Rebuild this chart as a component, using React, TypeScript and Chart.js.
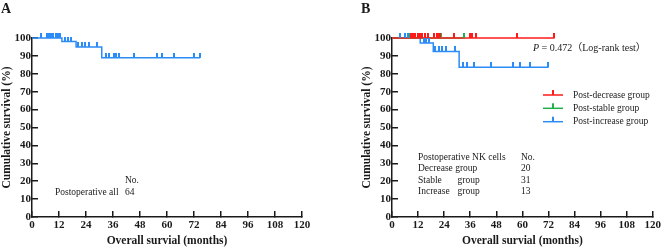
import React, { useEffect, useRef } from 'react';
import { Chart, registerables } from 'chart.js';

Chart.register(...registerables);

const SERIF = '"Liberation Serif", "Times New Roman", "Noto Sans CJK SC", serif';
const INK = '#1a1a1a';
const RED = '#ff1a1a';
const GREEN = '#22b04a';
const BLUE = '#2b8cf7';

// Time axis (months) and survival axis (%)
const monthTicks = [0, 12, 24, 36, 48, 60, 72, 84, 96, 108, 120];
const survivalTicks = [0, 10, 20, 30, 40, 50, 60, 70, 80, 90, 100];

// Panel A: all postoperative patients
const allTimes = [0, 13.3, 19.6, 31.0, 74.7];
const allSurvival = [100, 98.0, 95.0, 88.9, 88.9];
const allCensored = [4.0, 6.5, 7.5, 8.5, 9.5, 10.5, 11.5, 12.5, 14.8, 16.0, 17.5, 20.5, 22.0, 23.5, 25.5, 29.0, 33.0, 34.3, 36.5, 37.5, 38.5, 45.5, 55.5, 57.7, 63.3, 71.8, 74.7];
const allCount = 64;

// Panel B: groups by postoperative NK cell change
const decreaseTimes = [0, 74.8];
const decreaseSurvival = [100, 100];
const decreaseCensored = [8.8, 9.8, 10.8, 11.8, 12.8, 13.8, 15.2, 16.5, 19.5, 20.5, 21.5, 22.2, 28.5, 36.0, 37.0, 38.5, 57.6, 74.5];

const stableTimes = [0, 33.5];
const stableSurvival = [100, 100];
const stableCensored = [8.1, 13.7, 22.5, 33.1];

const increaseTimes = [0, 13.0, 19.0, 30.9, 72.0];
const increaseSurvival = [100, 97.2, 92.5, 83.6, 83.6];
const increaseCensored = [3.6, 6.2, 7.2, 14.5, 15.5, 17.0, 20.0, 21.5, 23.0, 25.0, 29.0, 32.5, 34.5, 37.9, 45.4, 55.5, 58.8, 63.6, 71.8];

const groupNames = ['Decrease', 'Stable', 'Increase'];
const groupCounts = [20, 31, 13];
const legendLabels = ['Post-decrease group', 'Post-stable group', 'Post-increase group'];
const legendColors = [RED, GREEN, BLUE];
const pValue = '0.472';

function survivalAt(times: number[], surv: number[], t: number) {
  let v = surv[0];
  for (let i = 0; i < times.length; i++) if (times[i] <= t) v = surv[i];
  return v;
}

// small upward tick used for censored observations
function censorMark(color: string) {
  const c = document.createElement('canvas');
  c.width = 2;
  c.height = 10;
  const g = c.getContext('2d')!;
  g.fillStyle = color;
  g.fillRect(0, 0, 2, 5);
  return c;
}

function curve(times: number[], surv: number[], color: string, order: number) {
  return {
    type: 'line' as const,
    data: times.map((x, i) => ({ x, y: surv[i] })),
    borderColor: color,
    borderWidth: 1.5,
    stepped: 'before' as const,
    pointRadius: 0,
    fill: false,
    clip: false as any,
    order,
  };
}

function marks(censored: number[], times: number[], surv: number[], color: string, order: number) {
  return {
    type: 'scatter' as const,
    data: censored.map((x) => ({ x, y: survivalAt(times, surv, x) })),
    pointStyle: censorMark(color),
    pointRadius: 3,
    showLine: false,
    clip: false as any,
    order,
  };
}

const tickFont = { family: SERIF, size: 11, weight: 'bold' as const };
const titleFont = { family: SERIF, size: 11.5, weight: 'bold' as const };
const noteFont = `9.5px ${SERIF}`;

function scales(yWidth: number, yTitlePad: number) {
  return {
    x: {
      type: 'linear' as const,
      min: 0,
      max: 120,
      afterFit: (s: any) => { s.height = 32; },
      afterBuildTicks: (s: any) => { s.ticks = monthTicks.map((v) => ({ value: v })); },
      border: { color: INK, width: 1.5 },
      grid: { drawOnChartArea: false, drawTicks: true, tickLength: -6, color: INK, lineWidth: 1.5 },
      ticks: { padding: 8, color: INK, font: tickFont, maxRotation: 0, autoSkip: false },
      title: { display: true, text: 'Overall survial (months)', color: INK, font: titleFont, padding: { top: 0, bottom: 1 } },
    },
    y: {
      type: 'linear' as const,
      min: 0,
      max: 100,
      afterFit: (s: any) => { s.width = yWidth; },
      afterBuildTicks: (s: any) => { s.ticks = survivalTicks.map((v) => ({ value: v })); },
      border: { color: INK, width: 1.5 },
      grid: { drawOnChartArea: false, drawTicks: true, tickLength: -6, color: INK, lineWidth: 1.5 },
      ticks: { padding: 7, color: INK, font: tickFont, autoSkip: false },
      title: { display: true, text: 'Cumulative survival (%)', color: INK, font: titleFont, padding: { top: yTitlePad, bottom: 0 } },
    },
  };
}

function text(ctx: CanvasRenderingContext2D, s: string, x: number, y: number, font = noteFont) {
  ctx.font = font;
  ctx.fillStyle = INK;
  ctx.textAlign = 'left';
  ctx.textBaseline = 'middle';
  ctx.fillText(s, x, y);
}

const notesA = {
  id: 'notesA',
  afterDraw(chart: Chart) {
    const ctx = chart.ctx;
    ctx.save();
    ctx.font = `bold 14px ${SERIF}`;
    ctx.fillStyle = INK;
    ctx.textBaseline = 'alphabetic';
    ctx.fillText('A', 1, 13);
    text(ctx, 'No.', 125, 180);
    text(ctx, 'Postoperative all', 55, 192);
    text(ctx, String(allCount), 125, 192);
    ctx.restore();
  },
};

const notesB = {
  id: 'notesB',
  afterDraw(chart: Chart) {
    const ctx = chart.ctx;
    ctx.save();
    ctx.font = `bold 14px ${SERIF}`;
    ctx.fillStyle = INK;
    ctx.textBaseline = 'alphabetic';
    ctx.fillText('B', 26, 12.5);

    // log-rank p value
    ctx.font = `italic 10px ${SERIF}`;
    ctx.textBaseline = 'middle';
    ctx.fillText('P', 198, 48);
    const pw = ctx.measureText('P').width;
    text(ctx, ` = ${pValue}（Log-rank test）`, 198 + pw, 48, `10px ${SERIF}`);

    // legend
    const rows = [95, 108.3, 121.7];
    legendLabels.forEach((label, i) => {
      const y = rows[i];
      ctx.strokeStyle = legendColors[i];
      ctx.lineWidth = 1.5;
      ctx.beginPath();
      ctx.moveTo(208, y);
      ctx.lineTo(228, y);
      ctx.stroke();
      ctx.fillStyle = legendColors[i];
      ctx.fillRect(217, y - 5, 2, 5);
      text(ctx, label, 238, y);
    });

    // numbers at risk table
    text(ctx, 'Postoperative NK cells', 83, 157);
    text(ctx, 'No.', 186, 157);
    const tableRows = [168.3, 180, 191.7];
    groupNames.forEach((name, i) => {
      const y = tableRows[i];
      if (i === 0) {
        text(ctx, `${name} group`, 83, y);
      } else {
        text(ctx, name, 83, y);
        text(ctx, 'group', 122.5, y);
      }
      text(ctx, String(groupCounts[i]), 186, y);
    });
    ctx.restore();
  },
};

function baseOptions(yWidth: number, yTitlePad: number, right: number) {
  return {
    responsive: false,
    animation: false as const,
    events: [] as any,
    layout: { padding: { left: 0, top: 38, right, bottom: 0 } },
    plugins: { legend: { display: false }, tooltip: { enabled: false } },
    scales: scales(yWidth, yTitlePad),
  };
}

export default function App() {
  const refA = useRef<HTMLCanvasElement>(null);
  const refB = useRef<HTMLCanvasElement>(null);

  useEffect(() => {
    const a = new Chart(refA.current!, {
      type: 'scatter',
      data: {
        datasets: [
          marks(allCensored, allTimes, allSurvival, BLUE, 0),
          curve(allTimes, allSurvival, BLUE, 1),
        ] as any,
      },
      options: baseOptions(32, 0, 33) as any,
      plugins: [notesA],
    });
    const b = new Chart(refB.current!, {
      type: 'scatter',
      data: {
        datasets: [
          marks(decreaseCensored, decreaseTimes, decreaseSurvival, RED, 0),
          marks(stableCensored, stableTimes, stableSurvival, GREEN, 1),
          marks(increaseCensored, increaseTimes, increaseSurvival, BLUE, 2),
          curve(decreaseTimes, decreaseSurvival, RED, 3),
          curve(stableTimes, stableSurvival, GREEN, 4),
          curve(increaseTimes, increaseSurvival, BLUE, 5),
        ] as any,
      },
      options: baseOptions(57, 25, 9) as any,
      plugins: [notesB],
    });
    return () => {
      a.destroy();
      b.destroy();
    };
  }, []);

  return (
    <div style={{ position: 'absolute', left: 0, top: 0, width: 669, height: 249, background: '#fff', overflow: 'hidden' }}>
      <canvas ref={refA} width={335} height={249} style={{ position: 'absolute', left: 0, top: 0 }} />
      <canvas ref={refB} width={334} height={249} style={{ position: 'absolute', left: 335, top: 0 }} />
    </div>
  );
}
